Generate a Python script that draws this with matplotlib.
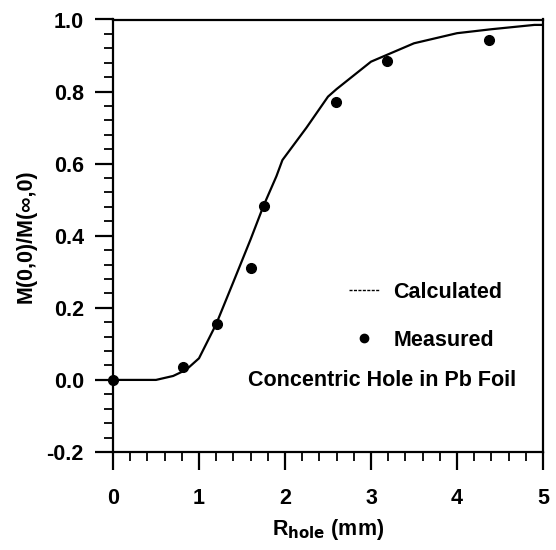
import matplotlib
matplotlib.use("Agg")
import matplotlib.pyplot as plt
from matplotlib.lines import Line2D
from matplotlib.ticker import MultipleLocator, FormatStrFormatter

plt.rcParams['font.family'] = ['Liberation Sans', 'DejaVu Sans']
plt.rcParams['font.weight'] = 'bold'
plt.rcParams['axes.labelweight'] = 'bold'
plt.rcParams['mathtext.default'] = 'regular'

# Calculated response vs hole radius
calc_r = [0.0, 0.5, 0.7, 0.85, 1.0, 1.2, 1.4, 1.6, 1.75, 1.9, 1.97, 2.25, 2.5, 2.6, 3.0, 3.5, 4.0, 4.4, 4.9, 5.0]
calc_m = [0.0, 0.0, 0.011, 0.028, 0.06, 0.155, 0.272, 0.39, 0.483, 0.565, 0.61, 0.70, 0.786, 0.807, 0.883, 0.934, 0.962, 0.973, 0.985, 0.985]

# Measured points
meas_r = [0.0, 0.81, 1.21, 1.60, 1.75, 2.59, 3.19, 4.37]
meas_m = [0.0, 0.037, 0.155, 0.31, 0.483, 0.772, 0.886, 0.943]

FS = 15.5

fig = plt.figure(figsize=(5.56, 5.5), dpi=100)
ax = fig.add_axes([113/556, 1 - 452/550, 430/556, 432.5/550])

ax.plot(calc_r, calc_m, color='black', lw=1.6)
ax.plot(meas_r, meas_m, 'o', color='black', ms=7, clip_on=False, zorder=5)

ax.set_xlim(0, 5)
ax.set_ylim(-0.2, 1.0)
ax.xaxis.set_major_locator(MultipleLocator(1))
ax.xaxis.set_minor_locator(MultipleLocator(0.2))
ax.yaxis.set_major_locator(MultipleLocator(0.2))
ax.yaxis.set_minor_locator(MultipleLocator(0.04))
ax.yaxis.set_major_formatter(FormatStrFormatter('%.1f'))
ax.xaxis.set_major_formatter(FormatStrFormatter('%d'))

ax.tick_params(which='major', direction='out', length=13, width=1.6, labelsize=FS)
ax.tick_params(axis='y', which='major', pad=8)
ax.tick_params(axis='x', which='major', pad=13)
ax.tick_params(which='minor', direction='out', length=6.5, width=1.3)
ax.tick_params(top=False, right=False)
for sp in ax.spines.values():
    sp.set_linewidth(1.6)

ax.set_ylabel('M(0,0)/M(\u221e,0)', fontsize=FS, labelpad=7)
ax.set_xlabel(r'R$_{\mathbf{hole}}$ (mm)', fontsize=FS, labelpad=6)

handles = [Line2D([], [], color='black', lw=1.0, ls=(0, (2.2, 1.0))),
           Line2D([], [], ls='none', marker='o', color='black', ms=6)]
ax.legend(handles, ['Calculated', 'Measured'], frameon=False, fontsize=FS,
          loc='center left', bbox_to_anchor=(0.549, 0.314), handlelength=1.4,
          handletextpad=0.65, labelspacing=1.25, borderpad=0, borderaxespad=0)

ax.text(0.315, 0.165, 'Concentric Hole in Pb Foil', transform=ax.transAxes,
        fontsize=FS, va='center', ha='left')

fig.savefig('out.png', dpi=100)
